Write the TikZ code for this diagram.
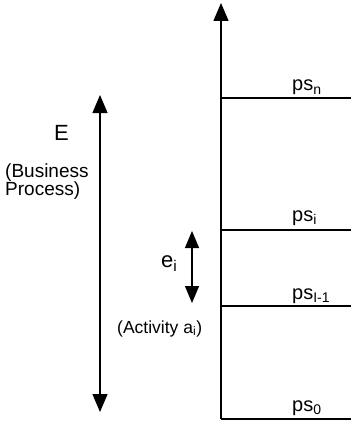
\documentclass[tikz,border=0pt]{standalone}
\usepackage{fontspec}
\setmainfont{Liberation Sans}
\usetikzlibrary{arrows.meta}
\begin{document}
\begin{tikzpicture}[x=1pt,y=-1pt,
  ln/.style={line width=1.3pt},
  bigtip/.style={-{Triangle[width=15pt,length=18pt]}},
  dbltip/.style={{Triangle[width=15pt,length=18pt]}-{Triangle[width=15pt,length=18pt]}},
  smalltip/.style={{Triangle[width=14pt,length=17pt]}-{Triangle[width=14pt,length=17pt]}},
  pslab/.style={anchor=base west,inner sep=0pt,font=\fontsize{20}{24}\selectfont},
  txt/.style={inner sep=0pt}]
\useasboundingbox (0,0) rectangle (351,425);
% axis
\coordinate (ax0) at (221,419);
\coordinate (axtop) at (221,3);
\draw[ln,bigtip] (ax0) -- (axtop);
% levels
\coordinate (ln) at (221,98);  \coordinate (rn) at (351,98);
\coordinate (li) at (221,230); \coordinate (ri) at (351,230);
\coordinate (lm) at (221,306); \coordinate (rm) at (351,306);
\coordinate (rz) at (351,419);
\draw[ln] (ln) -- (rn);
\draw[ln] (li) -- (ri);
\draw[ln] (lm) -- (rm);
\draw[ln] (ax0) -- (rz);
\node[pslab] (psn) at (292,91) {ps\textsubscript{n}};
\node[pslab] (psi) at (292,221) {ps\textsubscript{i}};
\node[pslab] (psm) at (292,299) {ps\textsubscript{I-1}};
\node[pslab] (psz) at (292,411) {ps\textsubscript{0}};
% business process arrow
\coordinate (et) at (100,95);
\coordinate (eb) at (100,412);
\draw[ln,dbltip] (et) -- (eb);
\node[txt,anchor=base west,font=\fontsize{22}{26}\selectfont] (E) at (54,140) {E};
\node[txt,anchor=base west,align=left,font=\fontsize{19}{18}\selectfont] (bp) at (5,195) {(Business\\Process)};
% activity arrow
\coordinate (at) at (192,231);
\coordinate (ab) at (192,303);
\draw[ln,smalltip] (at) -- (ab);
\node[txt,anchor=base west,font=\fontsize{22}{26}\selectfont] (ei) at (161,267) {e\textsubscript{i}};
\node[txt,anchor=base west,font=\fontsize{17.5}{19}\selectfont] (act) at (117,333) {(Activity a\textsubscript{i})};
\end{tikzpicture}
\end{document}
